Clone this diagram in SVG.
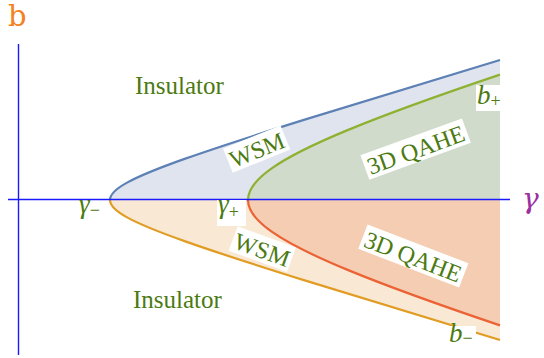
<svg xmlns="http://www.w3.org/2000/svg" width="544" height="358" viewBox="0 0 544 358">
<style>
.lbl{font-family:"Liberation Serif","Times New Roman",serif;font-size:24px;fill:#4b7a12}
.it{font-style:italic;font-size:27px}
.sub{font-style:normal;font-size:18px}
.box{fill:#ffffff}
.crv{fill:none;stroke-width:2.2}
.axis{stroke:#1a1aff;stroke-width:1.4;fill:none}
</style>
<rect width="544" height="358" fill="#ffffff"/>
<g id="regions">
<path d="M110,200 C110,194.55 115.35,189.12 127.07,182.66 C138.79,176.20 156.81,168.76 184.58,158.90 C212.35,149.04 249.75,136.80 303.89,119.88 C352.61,104.65 414.80,85.65 500,59.97 L500,200 Z" fill="#dfe4ef"/>
<path d="M110,200 C110,205.45 115.35,210.88 127.07,217.34 C138.79,223.80 156.81,231.24 184.58,241.10 C212.35,250.96 249.75,263.20 303.89,280.12 C352.61,295.35 414.80,314.35 500,340.03 L500,200 Z" fill="#f9e9d4"/>
<path d="M248,200 C248,189.79 255.63,179.58 271.68,168.32 C287.73,157.06 312.19,144.74 347.61,130.11 C384.64,114.81 433.57,96.99 500,74.61 L500,200 Z" fill="#d0dbcc"/>
<path d="M248,200 C248,210.21 255.63,220.42 271.68,231.68 C287.73,242.94 312.19,255.26 347.61,269.89 C384.64,285.19 433.57,303.01 500,325.39 L500,200 Z" fill="#f5cdb3"/>
</g>
<g id="connectors">
<path class="crv" stroke="#5e81b5" d="M110,200 C110,194.55 115.35,189.12 127.07,182.66 C138.79,176.20 156.81,168.76 184.58,158.90 C212.35,149.04 249.75,136.80 303.89,119.88 C352.61,104.65 414.80,85.65 500,59.97"/>
<path class="crv" stroke="#e19c24" d="M110,200 C110,205.45 115.35,210.88 127.07,217.34 C138.79,223.80 156.81,231.24 184.58,241.10 C212.35,250.96 249.75,263.20 303.89,280.12 C352.61,295.35 414.80,314.35 500,340.03"/>
<path class="crv" stroke="#8fb131" d="M248,200 C248,189.79 255.63,179.58 271.68,168.32 C287.73,157.06 312.19,144.74 347.61,130.11 C384.64,114.81 433.57,96.99 500,74.61"/>
<path class="crv" stroke="#eb6235" d="M248,200 C248,210.21 255.63,220.42 271.68,231.68 C287.73,242.94 312.19,255.26 347.61,269.89 C384.64,285.19 433.57,303.01 500,325.39"/>
<line class="axis" x1="8" y1="199.5" x2="510" y2="199.5"/>
<line class="axis" x1="18.5" y1="44" x2="18.5" y2="355"/>
</g>
<g id="axis-b"><text x="8" y="26" font-family="DejaVu Serif, serif" font-size="29" fill="#f58220">b</text></g>
<g id="axis-gamma"><text x="522" y="208" font-family="DejaVu Serif, serif" font-style="italic" font-size="28" fill="#9b2fa0">γ</text></g>
<g id="insulator-top"><text class="lbl" x="135" y="94" style="font-size:25px">Insulator</text></g>
<g id="insulator-bottom"><text class="lbl" x="133" y="308" style="font-size:25px">Insulator</text></g>
<g id="wsm-top" transform="translate(257,150) rotate(-22)">
<rect class="box" x="-31" y="-14" width="62" height="26"/>
<text class="lbl" x="0" y="8" text-anchor="middle">WSM</text>
</g>
<g id="wsm-bottom" transform="translate(262,250) rotate(20)">
<rect class="box" x="-31" y="-14" width="62" height="26"/>
<text class="lbl" x="0" y="8" text-anchor="middle">WSM</text>
</g>
<g id="qahe-top" transform="translate(416,150) rotate(-20)">
<rect class="box" x="-54" y="-14" width="108" height="26"/>
<text class="lbl" x="0" y="8" text-anchor="middle">3D QAHE</text>
</g>
<g id="qahe-bottom" transform="translate(413,257) rotate(21)">
<rect class="box" x="-54" y="-14" width="108" height="26"/>
<text class="lbl" x="0" y="8" text-anchor="middle">3D QAHE</text>
</g>
<g id="gamma-minus"><text class="lbl it" x="79" y="213">γ<tspan class="sub" dy="3">−</tspan></text></g>
<g id="gamma-plus">
<rect class="box" x="217" y="200" width="29" height="26"/>
<text class="lbl it" x="218" y="213">γ<tspan class="sub" dy="5">+</tspan></text>
</g>
<g id="b-plus">
<rect class="box" x="476" y="85" width="27" height="26"/>
<text class="lbl it" x="477" y="104">b<tspan class="sub" dy="3">+</tspan></text>
</g>
<g id="b-minus">
<rect class="box" x="447" y="326" width="29" height="22"/>
<text class="lbl it" x="449" y="342">b<tspan class="sub" dy="2">−</tspan></text>
</g>
</svg>
